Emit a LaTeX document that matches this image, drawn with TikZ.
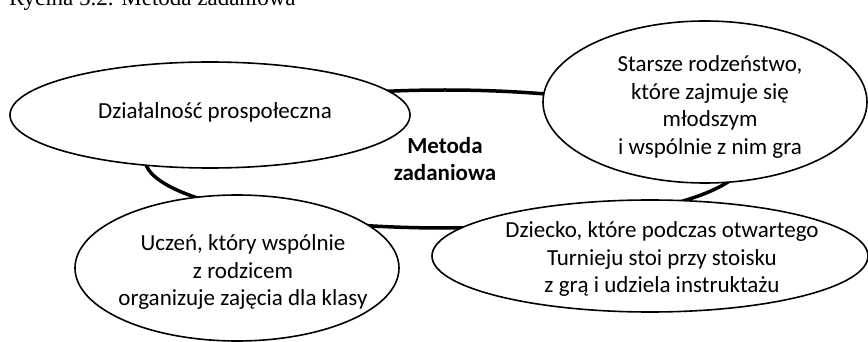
\documentclass[tikz,border=0pt]{standalone}
\usepackage{fontspec}
\setmainfont{Carlito}
\newfontfamily\capfont{Liberation Serif}
\usetikzlibrary{shapes.geometric}

\begin{document}
\begin{tikzpicture}[
x=1pt, y=-1pt,
hub/.style={draw, ellipse, line width=3.5pt, minimum width=600pt, minimum height=138pt, align=center, font=\fontsize{23}{27}\selectfont\bfseries},
bubble/.style={draw, ellipse, line width=1.6pt, fill=white, inner sep=0pt},
txt/.style={align=center, inner sep=0pt, font=\fontsize{23}{27.5}\selectfont}
]
\useasboundingbox (0,0) rectangle (868,342);
\clip (0,0) rectangle (868,342);
\node[anchor=base west, inner sep=0pt, font=\capfont\fontsize{23}{27}\selectfont] (cap) at (9,5.5) {Rycina 5.2. Metoda zadaniowa};
\node[hub] (metoda) at (445,159) {Metoda\\zadaniowa};
\node[bubble, minimum width=400pt, minimum height=106pt] (dzial) at (210,115) {};
\node[bubble, minimum width=324pt, minimum height=162pt] (starsze) at (705,102) {};
\node[bubble, minimum width=324pt, minimum height=146pt] (uczen) at (237,268) {};
\node[bubble, minimum width=436pt, minimum height=112pt] (dziecko) at (650,256) {};
\node[txt] (tdzial) at (215,112) {Działalność prospołeczna};
\node[txt] (tstarsze) at (710,107) {Starsze rodzeństwo,\\które zajmuje się\\młodszym\\i wspólnie z nim gra};
\node[txt] (tuczen) at (243,272) {Uczeń, który wspólnie\\z rodzicem\\organizuje zajęcia dla klasy};
\node[txt] (tdziecko) at (662,259) {Dziecko, które podczas otwartego\\Turnieju stoi przy stoisku\\z grą i udziela instruktażu};
\end{tikzpicture}
\end{document}
